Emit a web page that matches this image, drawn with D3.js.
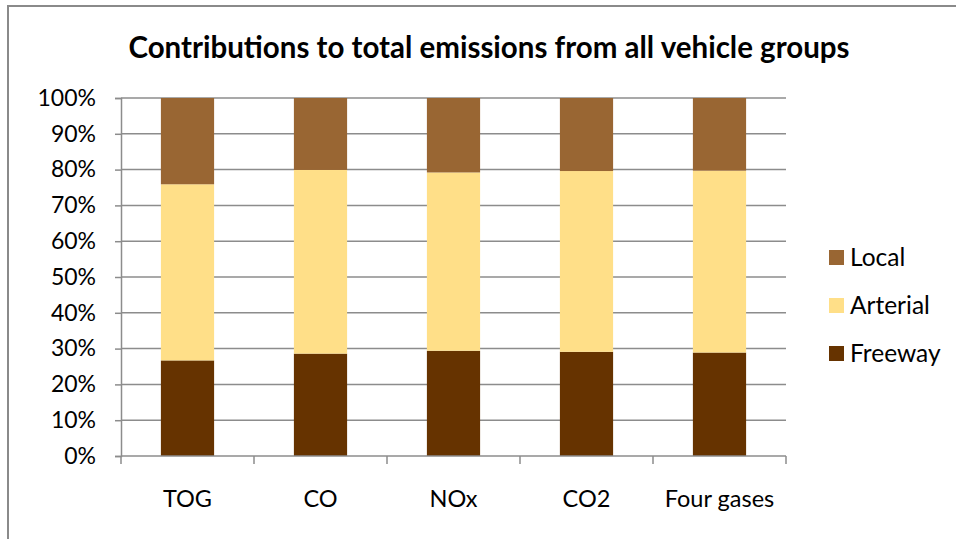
<!DOCTYPE html>
<html>
<head>
<meta charset="utf-8">
<script src="https://cdn.jsdelivr.net/npm/d3@7"></script>
<style>
  html, body { margin: 0; padding: 0; background: #fff; }
  svg { display: block; font-family: Lato, "Open Sans", sans-serif; }
</style>
</head>
<body>
<svg id="chart" width="956" height="539"></svg>
<script>
// Share of total emissions by road type (fractions, each column sums to 1)
const categories = ["TOG", "CO", "NOx", "CO2", "Four gases"];
const freeway  = [0.267, 0.286, 0.294, 0.291, 0.289];
const arterial = [0.492, 0.513, 0.498, 0.505, 0.508];
const local    = [0.241, 0.201, 0.208, 0.204, 0.203];
const seriesNames = ["Freeway", "Arterial", "Local"];
const seriesColors = ["#663300", "#FFDF88", "#996633"];
const yTicks = [0, 0.1, 0.2, 0.3, 0.4, 0.5, 0.6, 0.7, 0.8, 0.9, 1.0];

const svg = d3.select("#chart");

// Outer frame (left and top edges)
svg.append("path")
  .attr("d", "M8,539 V6 H956")
  .attr("fill", "none")
  .attr("stroke", "#8a8a8a")
  .attr("stroke-width", 2);

svg.append("text")
  .attr("x", 489).attr("y", 58)
  .attr("text-anchor", "middle")
  .attr("font-weight", "bold")
  .attr("font-size", 29.5)
  .attr("fill", "#000")
  .text("Contributions to total emissions from all vehicle groups");

const plot = { left: 121, right: 786, top: 98, bottom: 456 };

const x = d3.scaleBand()
  .domain(categories)
  .range([plot.left, plot.right])
  .paddingInner(0.6)
  .paddingOuter(0.3);

const y = d3.scaleLinear().domain([0, 1]).range([plot.bottom, plot.top]);

// Horizontal gridlines
svg.append("g")
  .selectAll("line")
  .data(yTicks.slice(1))
  .join("line")
  .attr("x1", plot.left).attr("x2", plot.right)
  .attr("y1", d => y(d)).attr("y2", d => y(d))
  .attr("stroke", "#8c8c8c")
  .attr("stroke-width", 1.5);

// Stack the three road types
const rows = categories.map((c, i) => ({
  cat: c, Freeway: freeway[i], Arterial: arterial[i], Local: local[i]
}));
const stacked = d3.stack().keys(seriesNames)(rows);

svg.append("g")
  .selectAll("g")
  .data(stacked)
  .join("g")
  .attr("fill", (d, i) => seriesColors[i])
  .selectAll("rect")
  .data(d => d)
  .join("rect")
  .attr("x", d => x(d.data.cat))
  .attr("width", x.bandwidth())
  .attr("y", d => y(d[1]))
  .attr("height", d => y(d[0]) - y(d[1]));

// Y axis
const yAxis = svg.append("g")
  .attr("transform", `translate(${plot.left},0)`)
  .call(d3.axisLeft(y).tickValues(yTicks).tickFormat(d3.format(".0%")).tickSize(6).tickPadding(19));
yAxis.select(".domain").attr("stroke", "#8c8c8c").attr("stroke-width", 1.5);
yAxis.selectAll(".tick line").attr("stroke", "#8c8c8c").attr("stroke-width", 1.5);
yAxis.selectAll(".tick text").attr("font-size", 23).attr("fill", "#000")
  .attr("font-family", "Lato, 'Open Sans', sans-serif");

// X axis with boundary tick marks between categories
const xg = svg.append("g").attr("transform", `translate(0,${plot.bottom})`);
xg.append("line")
  .attr("x1", plot.left).attr("x2", plot.right)
  .attr("stroke", "#8c8c8c").attr("stroke-width", 1.5);
const bounds = d3.range(categories.length + 1).map(i => plot.left + i * (plot.right - plot.left) / categories.length);
xg.selectAll("line.b")
  .data(bounds)
  .join("line")
  .attr("class", "b")
  .attr("x1", d => d).attr("x2", d => d)
  .attr("y1", 0).attr("y2", 8)
  .attr("stroke", "#8c8c8c").attr("stroke-width", 1.5);
xg.selectAll("text")
  .data(categories)
  .join("text")
  .attr("x", d => x(d) + x.bandwidth() / 2)
  .attr("y", 51)
  .attr("text-anchor", "middle")
  .attr("font-size", 23.5)
  .attr("fill", "#000")
  .text(d => d);

// Legend, listed top to bottom in stack order reversed
const legendItems = seriesNames.map((n, i) => ({ name: n, color: seriesColors[i] })).reverse();
const lg = svg.append("g").attr("transform", "translate(829,0)");
const item = lg.selectAll("g")
  .data(legendItems)
  .join("g")
  .attr("transform", (d, i) => `translate(0,${258 + i * 48})`);
item.append("rect")
  .attr("x", 0).attr("y", -8)
  .attr("width", 15).attr("height", 15)
  .attr("fill", d => d.color);
item.append("text")
  .attr("x", 21).attr("y", 8)
  .attr("font-size", 24.5)
  .attr("fill", "#000")
  .text(d => d.name);
</script>
</body>
</html>
